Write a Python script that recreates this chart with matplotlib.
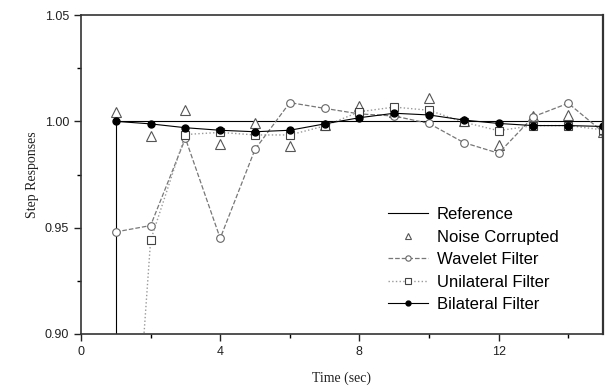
import matplotlib.pyplot as plt
import numpy as np

t = [1, 2, 3, 4, 5, 6, 7, 8, 9, 10, 11, 12, 13, 14, 15]

ref_t = [0, 1, 1, 15]
ref_y = [0.0, 0.0, 1.0, 1.0]

noise = [1.0044, 0.9933, 1.0053, 0.9892, 0.9994, 0.9885, 0.9985, 1.0070,
         1.0045, 1.0111, 1.0000, 0.9889, 1.0026, 1.0030, 0.9950]
wavelet = [0.948, 0.951, 0.992, 0.945, 0.9868, 1.0088, 1.0061, 1.0035,
           1.0025, 0.9990, 0.9900, 0.9850, 1.0022, 1.0085, 0.9950]
unilateral = [0.712, 0.944, 0.9938, 0.9948, 0.9936, 0.9936, 0.9978, 1.0045,
              1.0067, 1.0052, 0.9996, 0.9956, 0.9980, 0.9980, 0.9960]
bilateral = [1.0000, 0.9988, 0.9970, 0.9958, 0.9951, 0.9958, 0.9988, 1.0017,
             1.0038, 1.0030, 1.0006, 0.9990, 0.9980, 0.9980, 0.9976]

fig = plt.figure(figsize=(6.16, 3.87), dpi=100)
ax = fig.add_axes([81 / 616, 1 - 334 / 387, 522 / 616, 319 / 387])

ax.plot(ref_t, ref_y, color='black', lw=0.8, label='Reference')
ax.plot(t, noise, ls='none', marker='^', ms=6.5, mfc='white', mec='#555555',
        mew=0.8, label='Noise Corrupted')
ax.plot(t, wavelet, ls='--', color='#777777', lw=0.9, marker='o', ms=5.5,
        mfc='white', mec='#666666', mew=0.8, label='Wavelet Filter')
ax.plot(t, unilateral, ls=':', color='#999999', lw=1.0, marker='s', ms=5.5,
        mfc='white', mec='#444444', mew=0.8, label='Unilateral Filter')
ax.plot(t, bilateral, ls='-', color='black', lw=0.8, marker='o', ms=5,
        mfc='black', mec='black', label='Bilateral Filter')

ax.set_xlim(0, 15)
ax.set_ylim(0.90, 1.05)
ax.set_xticks([0, 4, 8, 12])
ax.set_xticks([2, 6, 10, 14], minor=True)
ax.set_yticks([0.90, 0.95, 1.00, 1.05])
ax.set_yticks([0.925, 0.975, 1.025], minor=True)
ax.set_yticklabels(['0.90', '0.95', '1.00', '1.05'])
ax.tick_params(direction='out', length=5, width=1, labelsize=9,
               colors='#222222')
ax.tick_params(which='minor', direction='out', length=3, width=1)
for lab in ax.get_xticklabels() + ax.get_yticklabels():
    lab.set_family('Liberation Sans')

for s in ax.spines.values():
    s.set_color('#333333')
    s.set_linewidth(1.2)
ax.spines['right'].set_linewidth(1.6)

ax.set_xlabel('Time (sec)', family='Liberation Serif', fontsize=10,
              color='#222222', labelpad=10)
ax.set_ylabel('Step Responses', family='Liberation Serif', fontsize=10,
              color='#222222', labelpad=4)

leg = ax.legend(loc='upper left', bbox_to_anchor=(0.56, 0.445), frameon=False,
                prop={'family': 'Liberation Sans', 'size': 12},
                handlelength=2.4, labelspacing=0.45, handletextpad=0.5,
                markerscale=0.7)

fig.savefig('out.png', dpi=100)
